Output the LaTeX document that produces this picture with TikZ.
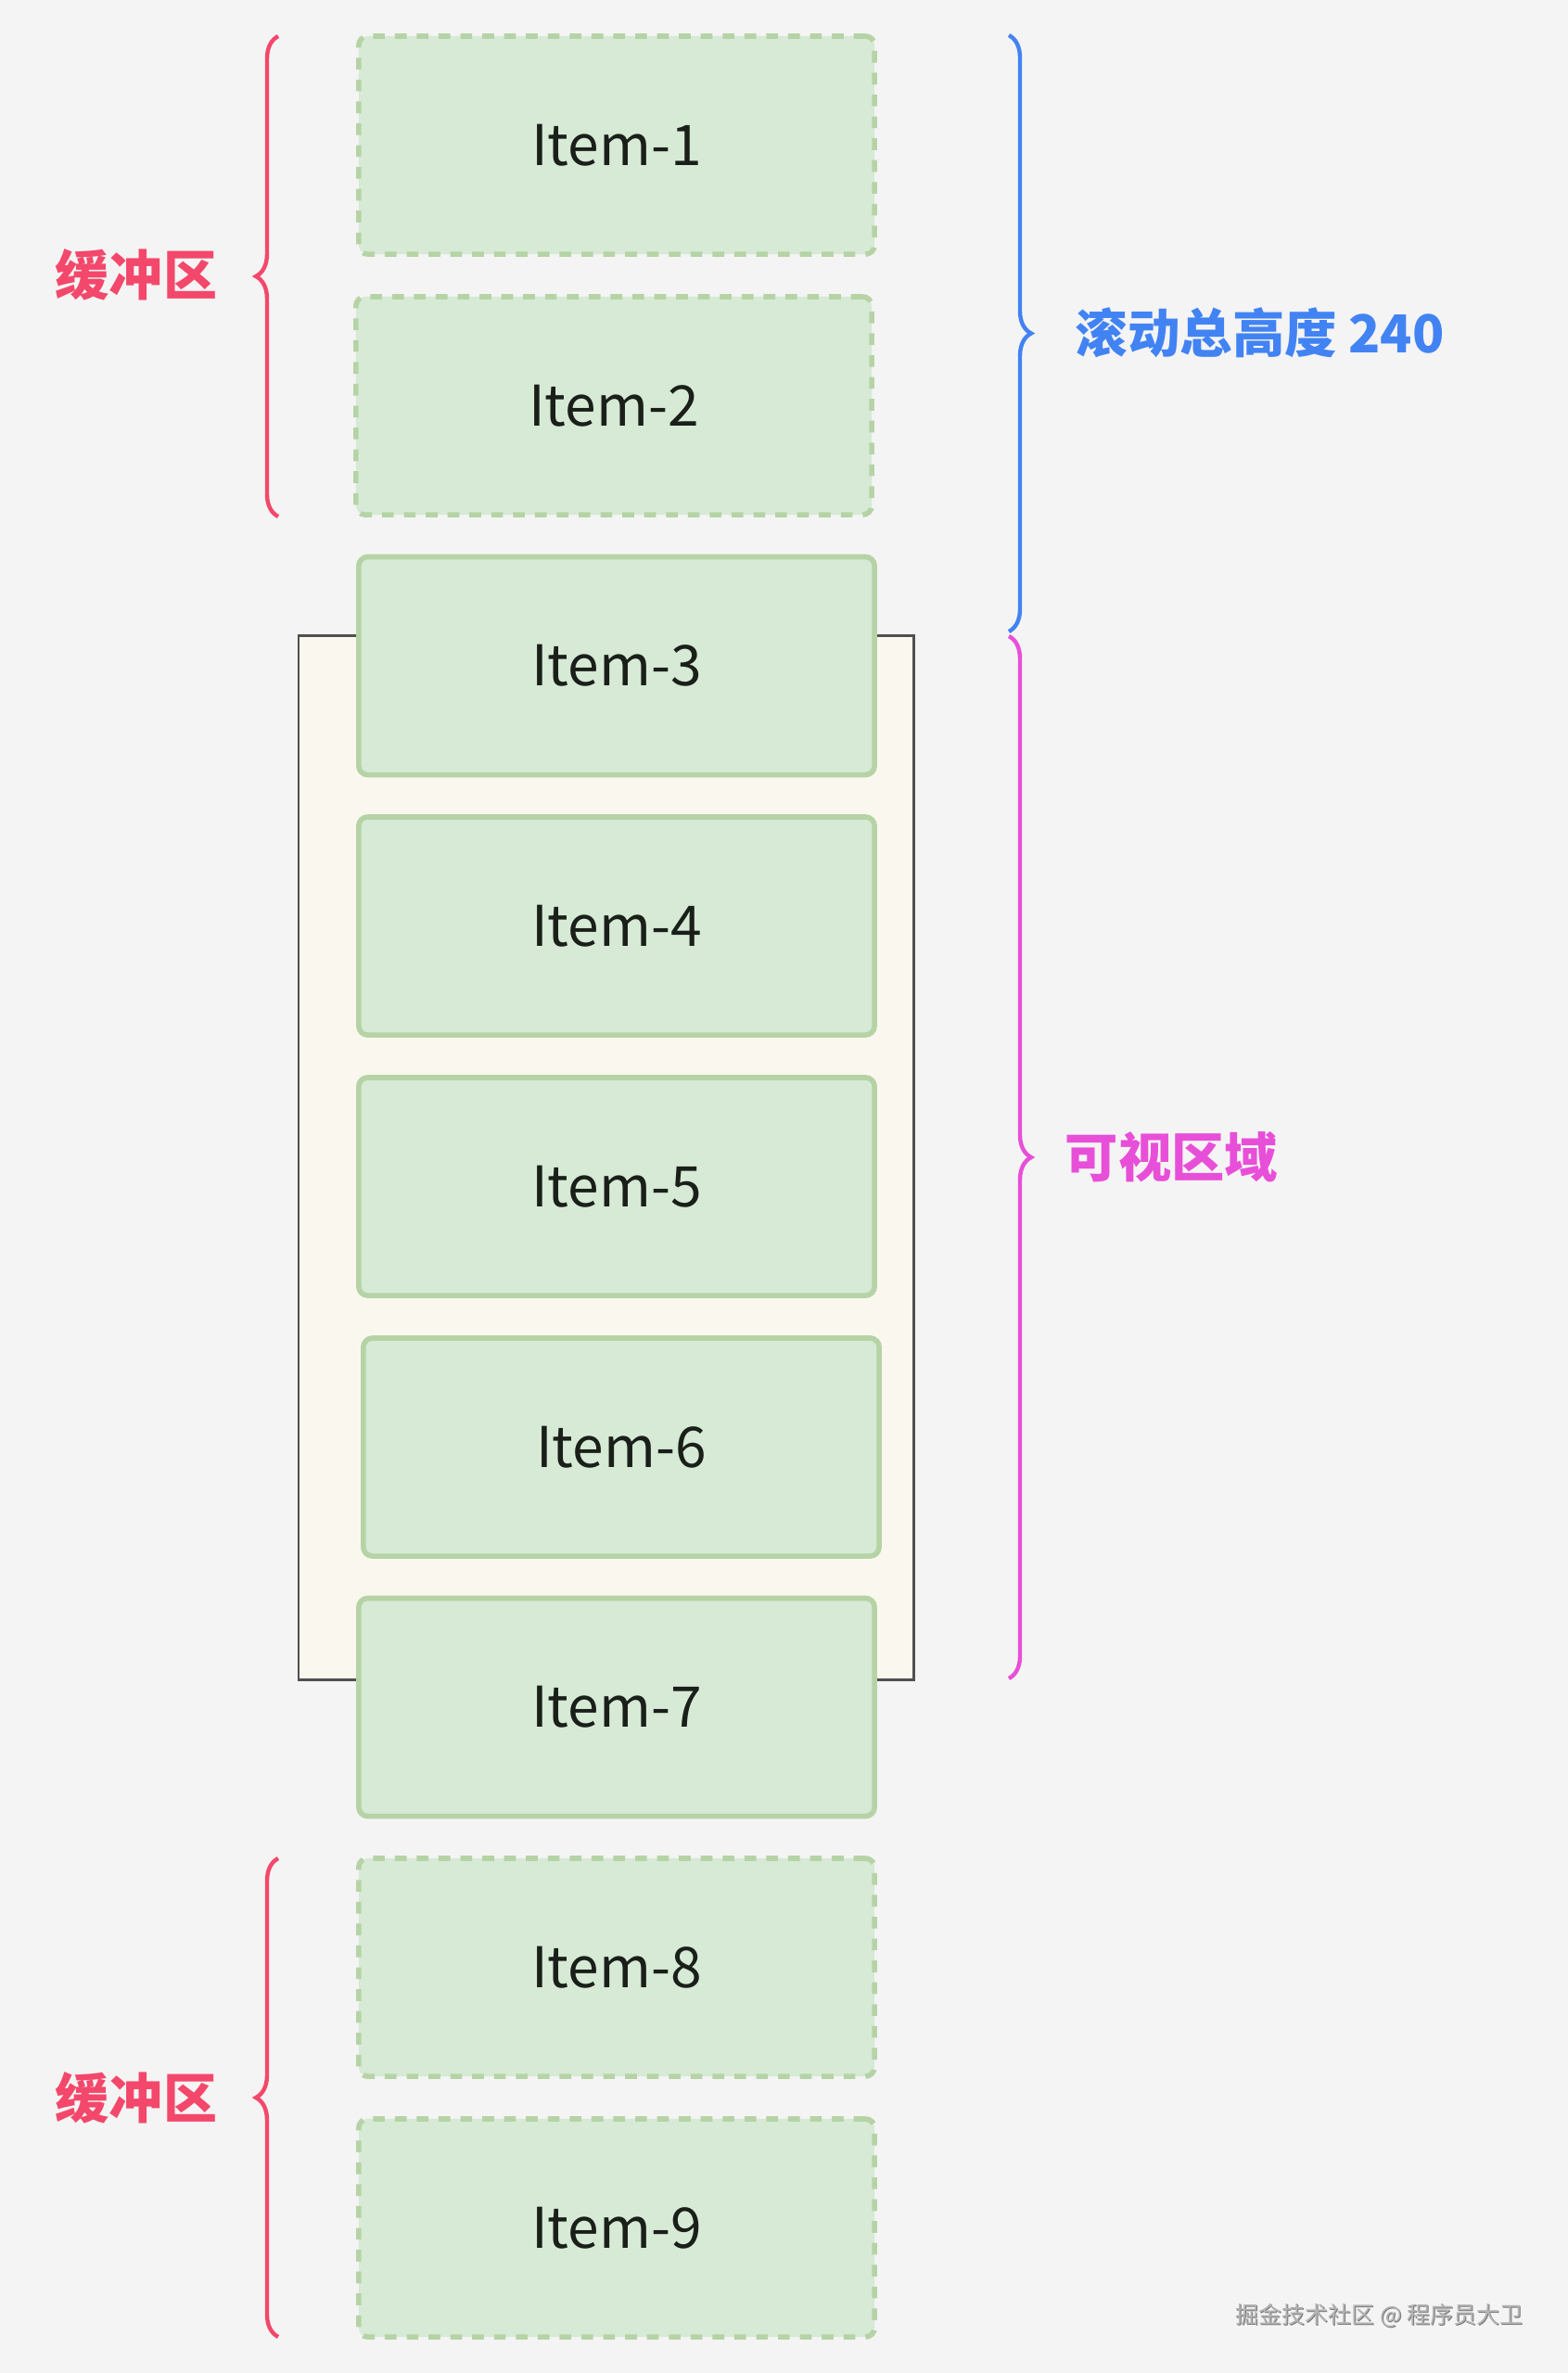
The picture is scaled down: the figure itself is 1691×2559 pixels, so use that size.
\documentclass[tikz,border=0pt]{standalone}
\usepackage{fontspec}
\setmainfont{Noto Sans CJK SC}
\usetikzlibrary{decorations.pathreplacing}
\definecolor{bgc}{HTML}{F4F4F4}
\definecolor{itemfill}{HTML}{D6EAD5}
\definecolor{itemline}{HTML}{B6D3A6}
\definecolor{vpfill}{HTML}{FAF8EE}
\definecolor{vpline}{HTML}{505050}
\definecolor{redc}{HTML}{F3486B}
\definecolor{bluec}{HTML}{4283F3}
\definecolor{magc}{HTML}{E84FD8}
\definecolor{txtc}{HTML}{1A1F1A}
\definecolor{wmc}{HTML}{B4B4B4}
\definecolor{wmshadow}{HTML}{7A7A7A}
\tikzset{
  itembox/.style={draw=itemline, fill=itemfill, line width=1.6pt, rounded corners=2.8pt,
    minimum width=5.56cm, minimum height=2.35cm, inner sep=0pt, text=txtc,
    font=\fontsize{17.2pt}{20pt}\selectfont},
  bufbox/.style={itembox, dash pattern=on 3.6pt off 3.1pt},
  bracel/.style={decorate, decoration={brace, amplitude=0.24cm}, line width=1.25pt},
  lbl/.style={font=\fontsize{16.5pt}{19pt}\selectfont\bfseries, inner sep=0pt},
}
\begin{document}
\begin{tikzpicture}[x=0.01cm,y=-0.01cm]
\useasboundingbox[fill=bgc] (0,0) rectangle (1691,2559);
% viewport
\draw[fill=vpfill, draw=vpline, line width=0.85pt] (322,685) rectangle (985,1811);
% items
\node[bufbox] (i1) at (665,156.5) {Item-1};
\node[bufbox] (i2) at (662,437.5) {Item-2};
\node[itembox] (i3) at (665,718) {Item-3};
\node[itembox] (i4) at (665,998.5) {Item-4};
\node[itembox] (i5) at (665,1279.5) {Item-5};
\node[itembox] (i6) at (670,1560.5) {Item-6};
\node[itembox] (i7) at (665,1841) {Item-7};
\node[bufbox] (i8) at (665,2121.5) {Item-8};
\node[bufbox] (i9) at (665,2402.5) {Item-9};
% braces
\coordinate (rt1) at (300,39);
\coordinate (rb1) at (300,557);
\coordinate (rt2) at (300,2004);
\coordinate (rb2) at (300,2520);
\coordinate (bt) at (1088,38);
\coordinate (bb) at (1088,681);
\coordinate (mt) at (1088,686);
\coordinate (mb) at (1088,1810);
\draw[bracel, redc] (rb1) -- (rt1);
\draw[bracel, redc] (rb2) -- (rt2);
\draw[bracel, bluec] (bt) -- (bb);
\draw[bracel, magc] (mt) -- (mb);
% labels
\node[lbl, text=redc] (l1) at (147,296) {缓冲区};
\node[lbl, text=redc] (l2) at (147,2262) {缓冲区};
\node[lbl, text=bluec, anchor=west, font=\fontsize{16.05pt}{19pt}\selectfont\bfseries] (l3) at (1159,359) {滚动总高度\hspace{0.22em}240};
\node[lbl, text=magc, anchor=west, font=\fontsize{16.3pt}{19pt}\selectfont\bfseries] (l4) at (1148,1248) {可视区域};
% watermark
\node[font=\fontsize{7.1pt}{8pt}\selectfont, text=wmshadow, inner sep=0pt] (wms) at (1488.5,2498) {掘金技术社区 @ 程序员大卫};
\node[font=\fontsize{7.1pt}{8pt}\selectfont, text=wmc, inner sep=0pt] (wm) at (1487.5,2497) {掘金技术社区 @ 程序员大卫};
\end{tikzpicture}
\end{document}
